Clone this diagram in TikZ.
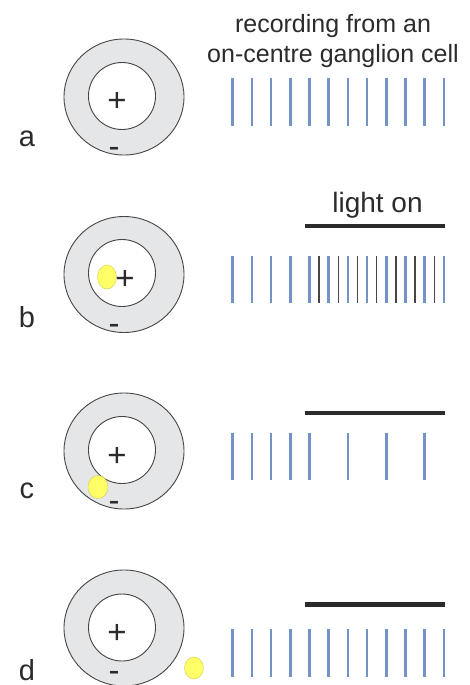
\documentclass[tikz,border=0pt]{standalone}
\usepackage{fontspec}
\setmainfont{Liberation Sans}
\usetikzlibrary{shapes.geometric}
\definecolor{ringgray}{HTML}{E5E6E8}
\definecolor{edgegray}{HTML}{454545}
\definecolor{spikeblue}{HTML}{7393C8}
\definecolor{textgray}{HTML}{2B2B2B}
\definecolor{spotyellow}{HTML}{FFFF66}
\tikzset{
	surround/.style={ellipse, draw=edgegray, fill=ringgray, line width=0.9pt,
		minimum width=120pt, minimum height=116pt, inner sep=0pt},
	centre/.style={circle, draw=edgegray, fill=white, line width=0.9pt,
		minimum size=67pt, inner sep=0pt},
	spot/.style={ellipse, draw=yellow!60!gray, fill=spotyellow, line width=0.4pt,
		minimum width=19pt, minimum height=24pt, inner sep=0pt},
	sign/.style={text=textgray, anchor=base, inner sep=0pt, font=\fontsize{33}{36}\selectfont},
	letter/.style={text=textgray, anchor=base, inner sep=0pt, font=\fontsize{29}{32}\selectfont},
	spike/.style={spikeblue, line width=2.7pt},
	burst/.style={edgegray, line width=1.5pt},
	lightbar/.style={textgray, line width=4.5pt}
}

\begin{document}
\begin{tikzpicture}[x=1pt, y=-1pt]
	\useasboundingbox (0,0) rectangle (470,685);

	\node[text=textgray, align=center, anchor=north, inner sep=0pt,
		font=\fontsize{25}{30}\selectfont] (title) at (333,14)
		{recording from an\\on-centre ganglion cell};

	% a: no light
	\node[surround] (ringa) at (124,97) {};
	\node[centre] (cena) at (122,96) {};
	\node[sign] (plusa) at (117,111.5) {+};
	\node[sign] (minusa) at (114,157) {-};
	\node[letter] (laba) at (27,146) {a};
	\foreach \i in {0,...,11}
		\draw[spike] (232.7+19.2*\i,77.7) -- (232.7+19.2*\i,126);

	% b: light on the centre
	\node[surround] (ringb) at (124,274.5) {};
	\node[centre] (cenb) at (122,273) {};
	\node[spot] (spotb) at (107,277) {};
	\node[sign] (plusb) at (125,289.5) {+};
	\node[sign] (minusb) at (114,334) {-};
	\node[letter] (labb) at (27,327) {b};
	\node[text=textgray, anchor=base, inner sep=0pt,
		font=\fontsize{28}{32}\selectfont] (lighton) at (377.5,212) {light on};
	\draw[lightbar] (304.7,226) -- (445,226);
	\foreach \i in {0,...,11}
		\draw[spike] (232.7+19.2*\i,255.7) -- (232.7+19.2*\i,303);
	\foreach \i in {4,...,10}
		\draw[burst] (242.3+19.2*\i,255.7) -- (242.3+19.2*\i,303);

	% c: light on the surround
	\node[surround] (ringc) at (124,451) {};
	\node[centre] (cenc) at (122,450) {};
	\node[spot, minimum width=20pt, minimum height=23pt] (spotc) at (98,487) {};
	\node[sign] (plusc) at (117,466.5) {+};
	\node[sign] (minusc) at (114,511) {-};
	\node[letter] (labc) at (27,498) {c};
	\draw[lightbar] (304.7,413) -- (445,413);
	\foreach \i in {0,1,2,3,4,6,8,10}
		\draw[spike] (232.7+19.2*\i,432.7) -- (232.7+19.2*\i,480);

	% d: light outside the field
	\node[surround] (ringd) at (124,628) {};
	\node[centre] (cend) at (122,627.5) {};
	\node[spot, minimum height=22pt] (spotd) at (194,668) {};
	\node[sign] (plusd) at (117,643.5) {+};
	\node[sign] (minusd) at (114,681.5) {-};
	\node[letter] (labd) at (27,680) {d};
	\draw[lightbar] (304.7,604.3) -- (445,604.3);
	\foreach \i in {0,...,11}
		\draw[spike] (232.7+19.2*\i,629) -- (232.7+19.2*\i,676.7);
\end{tikzpicture}
\end{document}
